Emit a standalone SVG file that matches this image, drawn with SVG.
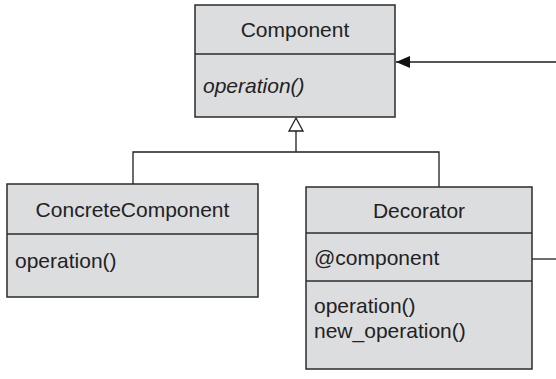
<svg xmlns="http://www.w3.org/2000/svg" width="556" height="379" viewBox="0 0 556 379">
<defs>
<style>
.box{fill:#dcdddf;stroke:#2b2b2b;stroke-width:1.5}
.div{stroke:#2b2b2b;stroke-width:1.3;fill:none}
.conn{stroke:#1e1e1e;stroke-width:1.3;fill:none}
text{font-family:"Liberation Sans",Arial,sans-serif;font-size:21px;fill:#222}
.c{text-anchor:middle}
.i{font-style:italic}
</style>
<marker id="filled" viewBox="0 0 14 12" refX="14" refY="6" markerWidth="14" markerHeight="12" markerUnits="userSpaceOnUse" orient="auto">
<path d="M0,0 L14,6 L0,12 Z" fill="#111"/>
</marker>
</defs>
<g id="connectors">
<path class="conn" d="M556,62 L396,62" marker-end="url(#filled)"/>
<path class="conn" d="M532,259 L556,259"/>
<path class="conn" d="M296,131 L296,152 M133,184 L133,152 L439,152 L439,187"/>
<path d="M296,118 L303,131 L289,131 Z" fill="#fff" stroke="#1e1e1e" stroke-width="1.3"/>
</g>
<g id="Component">
<rect class="box" x="195" y="5" width="200" height="112"/>
<line class="div" x1="195" y1="54" x2="395" y2="54"/>
<text class="c" x="295" y="37">Component</text>
<text class="i" x="203" y="93">operation()</text>
</g>
<g id="ConcreteComponent">
<rect class="box" x="7" y="184" width="251" height="113"/>
<line class="div" x1="7" y1="234" x2="258" y2="234"/>
<text class="c" x="132.5" y="217">ConcreteComponent</text>
<text x="15" y="268">operation()</text>
</g>
<g id="Decorator">
<rect class="box" x="306" y="187" width="226" height="182"/>
<line class="div" x1="306" y1="233" x2="532" y2="233"/>
<line class="div" x1="306" y1="281" x2="532" y2="281"/>
<text class="c" x="419" y="218">Decorator</text>
<text x="314" y="265">@component</text>
<text x="314" y="313">operation()</text>
<text x="314" y="338">new_operation()</text>
</g>
</svg>
